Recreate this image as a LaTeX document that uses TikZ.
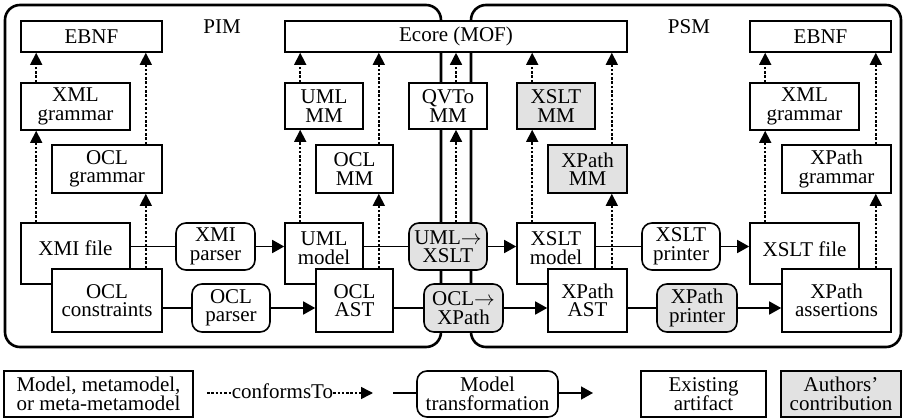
\documentclass[tikz,border=0pt]{standalone}
\usepackage{fontspec}
\setmainfont{Liberation Serif}
\usetikzlibrary{arrows.meta,calc}
\definecolor{contrib}{RGB}{226,226,226}
\begin{document}
\begin{tikzpicture}[x=1pt,y=-1pt,
 every node/.style={font=\fontsize{21}{18.5}\selectfont, inner sep=0pt},
 box/.style={draw, line width=1.6pt, fill=white, align=center},
 rbox/.style={box, rounded corners=10pt},
 own/.style={fill=contrib},
 frame/.style={draw, line width=2.6pt, rounded corners=15pt},
 dots/.style={line width=1.5pt, dash pattern=on 2.5pt off 1.8pt},
 conf/.style={dots, -{Triangle[length=12pt,width=12pt]}},
 tr/.style={line width=1.6pt},
 tra/.style={tr, -{Triangle[length=12pt,width=13pt]}},
 lg/.style={font=\fontsize{21}{19.5}\selectfont},
]
\useasboundingbox (0,0) rectangle (904,419);
% frames
\node[frame, minimum width=436pt, minimum height=342pt] (pim) at (223,176) {};
\node[frame, minimum width=430pt, minimum height=342pt] (psm) at (686,176) {};
\node (pimt) at (222,27) {PIM};
\node (psmt) at (689,27) {PSM};
% top row
\node[box, minimum width=141pt, minimum height=31pt] (ebnfl) at (91.5,36.5) {EBNF};
\node[box, minimum width=342pt, minimum height=31pt] (ecore) at (456,36.5) {Ecore (MOF)};
\node[box, minimum width=141pt, minimum height=31pt] (ebnfr) at (820.5,36.5) {EBNF};
% metamodels
\node[box, minimum width=109pt, minimum height=47pt] (xmlgl) at (75.5,106.5) {XML\\grammar};
\node[box, minimum width=110pt, minimum height=48pt] (oclg) at (107,169) {OCL\\grammar};
\node[box, minimum width=78pt, minimum height=46pt] (umlmm) at (324,106) {UML\\MM};
\node[box, minimum width=77pt, minimum height=48pt] (oclmm) at (354.5,169) {OCL\\MM};
\node[box, minimum width=78pt, minimum height=46pt] (qvtomm) at (448,106) {QVTo\\MM};
\node[box, own, minimum width=78pt, minimum height=46pt] (xsltmm) at (556,106) {XSLT\\MM};
\node[box, own, minimum width=79pt, minimum height=48pt] (xpathmm) at (587.5,169) {XPath\\MM};
\node[box, minimum width=109pt, minimum height=47pt] (xmlgr) at (804.5,106.5) {XML\\grammar};
\node[box, minimum width=109pt, minimum height=48pt] (xpathg) at (836.5,169) {XPath\\grammar};
% models
\node[box, minimum width=109pt, minimum height=61pt, label={[yshift=5.5pt]center:XMI file}] (xmi) at (75.5,253.5) {};
\node[box, minimum width=110pt, minimum height=63pt] (oclc) at (107,300.5) {OCL\\constraints};
\node[rbox, minimum width=79pt, minimum height=47pt] (xmip) at (215.5,246.5) {XMI\\parser};
\node[rbox, minimum width=78pt, minimum height=48pt] (oclp) at (231,308) {OCL\\parser};
\node[box, minimum width=78pt, minimum height=61pt, label={[align=center,yshift=5.5pt]center:UML\\model}] (umlm) at (324,253.5) {};
\node[box, minimum width=77pt, minimum height=63pt] (oclast) at (354.5,300.5) {OCL\\AST};
\node[rbox, own, minimum width=78pt, minimum height=47pt] (u2x) at (448,246.5) {UML$\rightarrow$\\XSLT};
\node[rbox, own, minimum width=79pt, minimum height=48pt] (o2x) at (463.5,308) {OCL$\rightarrow$\\XPath};
\node[box, minimum width=78pt, minimum height=61pt, label={[align=center,yshift=5.5pt]center:XSLT\\model}] (xsltm) at (556,253.5) {};
\node[box, minimum width=79pt, minimum height=63pt] (xpast) at (587.5,300.5) {XPath\\AST};
\node[rbox, minimum width=78pt, minimum height=47pt] (xsltp) at (681,246.5) {XSLT\\printer};
\node[rbox, own, minimum width=80pt, minimum height=48pt] (xpp) at (697,308) {XPath\\printer};
\node[box, minimum width=109pt, minimum height=61pt, label={[yshift=4pt]center:XSLT file}] (xsltf) at (804.5,253.5) {};
\node[box, minimum width=109pt, minimum height=63pt] (xpa) at (836.5,300.5) {XPath\\assertions};
% conformsTo connectors
\coordinate (a1) at ([xshift=16pt]xmi.north west);
\coordinate (a2) at ([xshift=16pt]xmlgl.north west);
\draw[conf] (a1) -- (a1 |- xmlgl.south);
\draw[conf] (a2) -- (a2 |- ebnfl.south);
\coordinate (b1) at ([xshift=-17pt]oclc.north east);
\coordinate (b2) at ([xshift=-17pt]oclg.north east);
\draw[conf] (b1) -- (b1 |- oclg.south);
\draw[conf] (b2) -- (b2 |- ebnfl.south);
\coordinate (c1) at ([xshift=16pt]umlm.north west);
\coordinate (c2) at ([xshift=16pt]umlmm.north west);
\draw[conf] (c1) -- (c1 |- umlmm.south);
\draw[conf] (c2) -- (c2 |- ecore.south);
\coordinate (d1) at ([xshift=-15pt]oclast.north east);
\coordinate (d2) at ([xshift=-15pt]oclmm.north east);
\draw[conf] (d1) -- (d1 |- oclmm.south);
\draw[conf] (d2) -- (d2 |- ecore.south);
\coordinate (e1) at ([xshift=8pt]u2x.north);
\coordinate (e2) at ([xshift=8pt]qvtomm.north);
\draw[conf] (e1) -- (e1 |- qvtomm.south);
\draw[conf] (e2) -- (e2 |- ecore.south);
\coordinate (f1) at ([xshift=16pt]xsltm.north west);
\coordinate (f2) at ([xshift=16pt]xsltmm.north west);
\draw[conf] (f1) -- (f1 |- xsltmm.south);
\draw[conf] (f2) -- (f2 |- ecore.south);
\coordinate (g1) at ([xshift=-16pt]xpast.north east);
\coordinate (g2) at ([xshift=-16pt]xpathmm.north east);
\draw[conf] (g1) -- (g1 |- xpathmm.south);
\draw[conf] (g2) -- (g2 |- ecore.south);
\coordinate (h1) at ([xshift=16pt]xsltf.north west);
\coordinate (h2) at ([xshift=16pt]xmlgr.north west);
\draw[conf] (h1) -- (h1 |- xmlgr.south);
\draw[conf] (h2) -- (h2 |- ebnfr.south);
\coordinate (k1) at ([xshift=-16pt]xpa.north east);
\coordinate (k2) at ([xshift=-16pt]xpathg.north east);
\draw[conf] (k1) -- (k1 |- xpathg.south);
\draw[conf] (k2) -- (k2 |- ebnfr.south);
% transformations
\draw[tr] (xmi.east |- xmip.west) -- (xmip.west);
\draw[tra] (xmip.east) -- (umlm.west |- xmip.east);
\draw[tr] (oclc.east |- oclp.west) -- (oclp.west);
\draw[tra] (oclp.east) -- (oclast.west |- oclp.east);
\draw[tr] (umlm.east |- u2x.west) -- (u2x.west);
\draw[tra] (u2x.east) -- (xsltm.west |- u2x.east);
\draw[tr] (oclast.east |- o2x.west) -- (o2x.west);
\draw[tra] (o2x.east) -- (xpast.west |- o2x.east);
\draw[tr] (xsltm.east |- xsltp.west) -- (xsltp.west);
\draw[tra] (xsltp.east) -- (xsltf.west |- xsltp.east);
\draw[tr] (xpast.east |- xpp.west) -- (xpp.west);
\draw[tra] (xpp.east) -- (xpa.west |- xpp.east);
% legend
\node[box, lg, minimum width=189pt, minimum height=46pt] (lgm) at (98.5,394) {Model, metamodel,\\or meta-metamodel};
\coordinate (lc0) at (207,393);
\coordinate (lc1) at (373,393);
\node (lct) at (282.5,391) {conformsTo};
\draw[dots] (lc0) -- (lct.west |- lc0);
\draw[conf] (lct.east |- lc1) -- (lc1);
\coordinate (lt0) at (393,393);
\coordinate (lt1) at (593,393);
\node[rbox, lg, minimum width=141pt, minimum height=46pt] (ltr) at (487.5,394) {Model\\transformation};
\draw[tr] (lt0) -- (ltr.west |- lt0);
\draw[tra] (ltr.east |- lt1) -- (lt1);
\node[box, lg, minimum width=125pt, minimum height=46pt] (lex) at (703.5,394) {Existing\\artifact};
\node[box, lg, own, minimum width=120pt, minimum height=46pt] (lau) at (841,394) {Authors'\\contribution};
\end{tikzpicture}
\end{document}
